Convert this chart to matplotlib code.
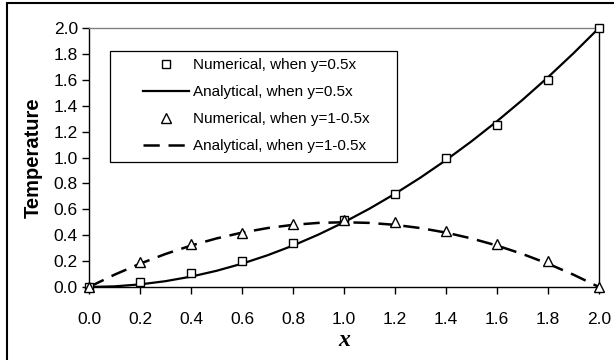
import matplotlib.pyplot as plt
from matplotlib.patches import Rectangle

# numerical results
x_num = [0.0, 0.2, 0.4, 0.6, 0.8, 1.0, 1.2, 1.4, 1.6, 1.8, 2.0]
t_num_a = [0.0, 0.04, 0.11, 0.20, 0.34, 0.52, 0.72, 1.0, 1.25, 1.6, 2.0]
t_num_b = [0.0, 0.19, 0.33, 0.42, 0.49, 0.52, 0.50, 0.43, 0.33, 0.20, 0.0]

# analytical curves
x_an = [0.0, 0.1, 0.2, 0.3, 0.4, 0.5, 0.6, 0.7, 0.8, 0.9, 1.0,
        1.1, 1.2, 1.3, 1.4, 1.5, 1.6, 1.7, 1.8, 1.9, 2.0]
t_an_a = [0.0, 0.005, 0.02, 0.045, 0.08, 0.125, 0.18, 0.245, 0.32, 0.405, 0.5,
          0.605, 0.72, 0.845, 0.98, 1.125, 1.28, 1.445, 1.62, 1.805, 2.0]
t_an_b = [0.0, 0.095, 0.18, 0.255, 0.32, 0.375, 0.42, 0.455, 0.48, 0.495, 0.5,
          0.495, 0.48, 0.455, 0.42, 0.375, 0.32, 0.255, 0.18, 0.095, 0.0]

x_ticks = [0.0, 0.2, 0.4, 0.6, 0.8, 1.0, 1.2, 1.4, 1.6, 1.8, 2.0]
y_ticks = [0.0, 0.2, 0.4, 0.6, 0.8, 1.0, 1.2, 1.4, 1.6, 1.8, 2.0]

plt.rcParams['font.family'] = ['Liberation Sans', 'DejaVu Sans']

W, H = 614, 360
fig = plt.figure(figsize=(W / 100, H / 100), dpi=100)
ax = fig.add_axes([89 / W, 1 - 287 / H, 510 / W, 259 / H])

ax.plot(x_num, t_num_a, linestyle='none', marker='s', markersize=6,
        markerfacecolor='white', markeredgecolor='black', markeredgewidth=1,
        label='Numerical, when y=0.5x', zorder=4, clip_on=False)
ax.plot(x_an, t_an_a, color='black', linewidth=1.6,
        label='Analytical, when y=0.5x', zorder=3)
ax.plot(x_num, t_num_b, linestyle='none', marker='^', markersize=7,
        markerfacecolor='white', markeredgecolor='black', markeredgewidth=1,
        label='Numerical, when y=1-0.5x', zorder=4, clip_on=False)
ax.plot(x_an, t_an_b, color='black', linewidth=1.8, dashes=(6.5, 3.5),
        label='Analytical, when y=1-0.5x', zorder=3)

ax.set_xlim(0, 2)
ax.set_ylim(0, 2)
ax.set_xticks(x_ticks)
ax.set_yticks(y_ticks)
ax.set_xticklabels([f'{v:.1f}' for v in x_ticks])
ax.set_yticklabels([f'{v:.1f}' for v in y_ticks])
ax.tick_params(direction='out', length=5, width=1, labelsize=12.5, color='black')
ax.tick_params(axis='x', pad=13)
ax.tick_params(axis='y', pad=3)

ax.spines['top'].set_color('#808080')
for s in ['left', 'bottom', 'right']:
    ax.spines[s].set_color('black')
for s in ax.spines.values():
    s.set_linewidth(1)

ax.set_ylabel('Temperature', fontsize=14.5, fontweight='bold', labelpad=8)
ax.set_xlabel('x', fontsize=17, fontweight='bold', style='italic',
              family='Liberation Serif', labelpad=2)

# legend without its own frame; the frame is drawn separately below
leg = ax.legend(loc='upper left', bbox_to_anchor=((143 - 89) / 510, (287 - 58) / 259),
                frameon=False, fontsize=11, handlelength=3.0,
                handletextpad=0.25, labelspacing=0.86, borderpad=0,
                borderaxespad=0)
ax.add_patch(Rectangle(((110 - 89) / 510, (287 - 162) / 259),
                       (397 - 110) / 510, (162 - 51) / 259,
                       transform=ax.transAxes, fill=False,
                       edgecolor='black', linewidth=0.9, zorder=5))

# outer chart border
fig.patches.append(Rectangle((7 / W, -0.05), 1.1, 1 - 3 / H + 0.05,
                             transform=fig.transFigure, fill=False,
                             edgecolor='black', linewidth=1.5))

fig.savefig('out.png', dpi=100)
